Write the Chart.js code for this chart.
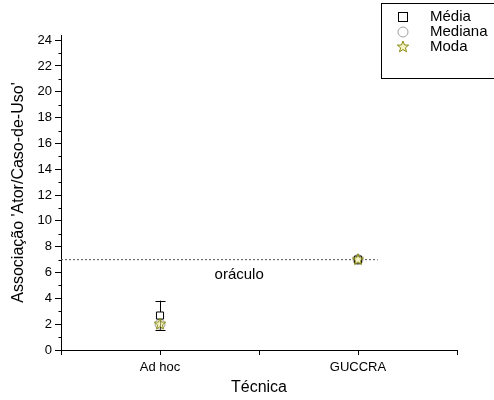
<!DOCTYPE html>
<html>
<head>
<meta charset="utf-8">
<script src="https://cdn.jsdelivr.net/npm/chart.js@4"></script>
<style>
html, body { margin: 0; padding: 0; background: #fff; }
#wrap { width: 494px; height: 400px; position: relative; }
</style>
</head>
<body>
<div id="wrap"><canvas id="grafico"></canvas></div>
<script>
// dados por técnica
const tecnicas = ['Ad hoc', 'GUCCRA'];
const posicoes = [1, 3];
const media = [2.67, 7];
const desvio = [1.15, 0];
const mediana = [2, 7];
const moda = [2, 7];
const oraculo = 7;
const yTicks = [0, 2, 4, 6, 8, 10, 12, 14, 16, 18, 20, 22, 24];

const fonte = '"Liberation Sans", Arial, sans-serif';

// estrela de 5 pontas para a moda
function estrela(r, cor) {
    const s = Math.ceil(r * 2 + 2);
    const c = document.createElement('canvas');
    c.width = s; c.height = s;
    const ctx = c.getContext('2d');
    ctx.beginPath();
    for (let i = 0; i < 10; i++) {
        const a = -Math.PI / 2 + i * Math.PI / 5;
        const rr = i % 2 === 0 ? r : r * 0.42;
        ctx.lineTo(s / 2 + rr * Math.cos(a), s / 2 + rr * Math.sin(a));
    }
    ctx.closePath();
    ctx.fillStyle = 'rgba(235,235,160,0.6)';
    ctx.fill();
    ctx.strokeStyle = cor;
    ctx.lineWidth = 1;
    ctx.stroke();
    return c;
}
const starImg = estrela(6, '#8a8a10');

const pts = vals => posicoes.map((x, i) => ({ x: x, y: vals[i] }));

// barras de erro da média
const barrasErro = {
    id: 'barrasErro',
    beforeDatasetsDraw(chart) {
        const { ctx, scales: { x, y } } = chart;
        ctx.save();
        ctx.strokeStyle = '#000';
        ctx.lineWidth = 1;
        posicoes.forEach((p, i) => {
            if (!desvio[i]) return;
            const px = Math.round(x.getPixelForValue(p)) + 0.5;
            const y1 = y.getPixelForValue(media[i] + desvio[i]);
            const y2 = y.getPixelForValue(media[i] - desvio[i]);
            ctx.beginPath();
            ctx.moveTo(px, y1); ctx.lineTo(px, y2);
            ctx.moveTo(px - 5, Math.round(y1) + 0.5); ctx.lineTo(px + 5, Math.round(y1) + 0.5);
            ctx.moveTo(px - 5, Math.round(y2) + 0.5); ctx.lineTo(px + 5, Math.round(y2) + 0.5);
            ctx.stroke();
        });
        ctx.restore();
    }
};

// marcas menores do eixo y, texto "oráculo" e legenda em caixa
const extras = {
    id: 'extras',
    afterDraw(chart) {
        const { ctx, scales: { x, y } } = chart;
        ctx.save();
        ctx.strokeStyle = '#000';
        ctx.lineWidth = 1;
        const left = Math.round(x.left) + 0.5;
        for (let v = 1; v < 24.4; v += 2) {
            const py = Math.round(y.getPixelForValue(v)) + 0.5;
            ctx.beginPath();
            ctx.moveTo(left - 3, py); ctx.lineTo(left, py);
            ctx.stroke();
        }
        ctx.fillStyle = '#000';
        ctx.font = '15px ' + fonte;
        ctx.textAlign = 'center';
        ctx.textBaseline = 'middle';
        ctx.fillText('oráculo', x.getPixelForValue(1.8), y.getPixelForValue(5.85));

        // legenda
        ctx.strokeStyle = '#000';
        ctx.strokeRect(381.5, 3.5, 130, 75);
        const itens = chart.data.datasets.filter(d => d.emLegenda);
        itens.forEach((d, i) => {
            const cy = 17 + i * 15;
            const cx = 403;
            if (d.pointStyle === 'rect') {
                ctx.fillStyle = '#fff';
                ctx.strokeStyle = d.borderColor;
                ctx.strokeRect(cx - 4.5, cy - 4.5, 9, 9);
            } else if (d.pointStyle === 'circle') {
                ctx.strokeStyle = d.borderColor;
                ctx.beginPath();
                ctx.arc(cx, cy, 5, 0, Math.PI * 2);
                ctx.stroke();
            } else {
                ctx.drawImage(starImg, cx - starImg.width / 2, cy - starImg.height / 2);
            }
            ctx.fillStyle = '#000';
            ctx.textAlign = 'left';
            ctx.fillText(d.label, 430, cy);
        });
        ctx.restore();
    }
};

new Chart(document.getElementById('grafico'), {
    type: 'scatter',
    data: {
        datasets: [
            {
                label: 'Média', emLegenda: true, order: 1,
                data: pts(media),
                pointStyle: 'rect', pointRadius: 5, pointHoverRadius: 5,
                borderColor: '#000', backgroundColor: '#fff', borderWidth: 1
            },
            {
                label: 'Mediana', emLegenda: true, order: 2,
                data: pts(mediana),
                pointStyle: 'circle', pointRadius: 5, pointHoverRadius: 5,
                borderColor: '#a0a0a0', backgroundColor: 'rgba(255,255,255,0)', borderWidth: 1
            },
            {
                label: 'Moda', emLegenda: true, order: 0,
                data: pts(moda),
                pointStyle: starImg,
                borderColor: '#8a8a10', backgroundColor: '#8a8a10'
            },
            {
                label: 'oráculo', order: 3,
                type: 'line',
                data: [{ x: 0, y: oraculo }, { x: 3.2, y: oraculo }],
                borderColor: '#555', borderWidth: 1, borderDash: [2, 2],
                pointRadius: 0, fill: false
            }
        ]
    },
    options: {
        responsive: true,
        maintainAspectRatio: false,
        animation: false,
        events: [],
        layout: { padding: { top: 35, right: 37, left: 0, bottom: 0 } },
        plugins: { legend: { display: false }, tooltip: { enabled: false } },
        scales: {
            x: {
                type: 'linear', min: 0, max: 4,
                afterBuildTicks: s => { s.ticks = [0, 1, 2, 3, 4].map(v => ({ value: v })); },
                afterFit: s => { s.height = 50; },
                ticks: {
                    autoSkip: false, maxRotation: 0, padding: 5, color: '#000',
                    font: { family: fonte, size: 13 },
                    callback: v => { const i = posicoes.indexOf(v); return i >= 0 ? tecnicas[i] : ''; }
                },
                grid: { drawOnChartArea: false, color: '#000', tickLength: 5 },
                border: { color: '#000', width: 1 },
                title: { display: true, text: 'Técnica', color: '#000', font: { family: fonte, size: 16 }, padding: { top: 3, bottom: 3 } }
            },
            y: {
                min: 0, max: 24.4,
                afterBuildTicks: s => { s.ticks = yTicks.map(v => ({ value: v })); },
                afterFit: s => { s.width = 61; },
                ticks: { padding: 3, color: '#000', font: { family: fonte, size: 13 } },
                grid: { drawOnChartArea: false, color: '#000', tickLength: 6 },
                border: { color: '#000', width: 1 },
                title: { display: true, text: "Associação 'Ator/Caso-de-Uso'", color: '#000', font: { family: fonte, size: 16 }, padding: { top: 9, bottom: 0 } }
            }
        }
    },
    plugins: [barrasErro, extras]
});
</script>
</body>
</html>
